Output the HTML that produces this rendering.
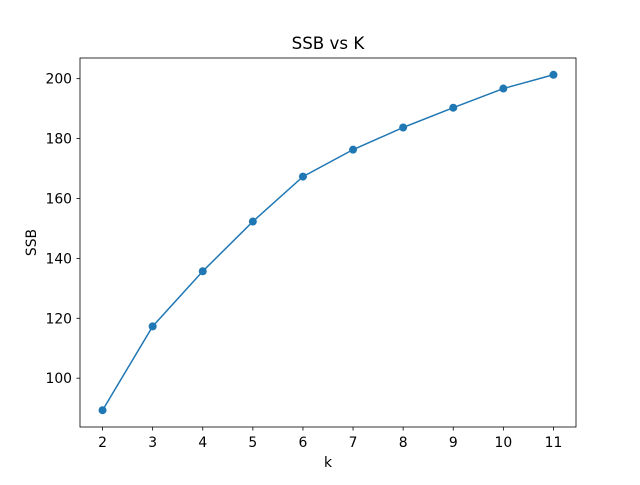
<!DOCTYPE html>
<html><head><meta charset="utf-8"><style>body{margin:0;background:#fff}svg text{font-family:"DejaVu Sans","Liberation Sans",sans-serif;fill:#000}</style></head>
<body>
<svg id="c" width="640" height="480" xmlns="http://www.w3.org/2000/svg"></svg>
<script>
const categories=[2,3,4,5,6,7,8,9,10,11];
const ssbValues=[89.3,117.3,135.7,152.3,167.3,176.3,183.7,190.3,196.7,201.3];
const yTicks=[100,120,140,160,180,200];
const L=80,R=576,T=58,B=427;
const xmin=1.55,xmax=11.45,ymin=83.7,ymax=206.9;
const X=v=>L+(v-xmin)/(xmax-xmin)*(R-L);
const Y=v=>B-(v-ymin)/(ymax-ymin)*(B-T);
const svg=document.getElementById('c');const NS='http://www.w3.org/2000/svg';
function mk(t,a,p){const e=document.createElementNS(NS,t);for(const k in a)e.setAttribute(k,a[k]);(p||svg).appendChild(e);return e;}
let r=mk('rect',{x:L,y:T,width:R-L,height:B-T,fill:'none',stroke:'#000','stroke-width':0.8});


categories.forEach(c=>{const x=X(c);
let t=mk('line',{x1:x,x2:x,y1:B,y2:B+3.5,stroke:'#000','stroke-width':0.8});


let l=mk('text',{x:x,y:B+20,'font-size':13.9,'text-anchor':'middle'});l.textContent=c;

});
yTicks.forEach(v=>{const y=Y(v);
let t=mk('line',{x1:L-3.5,x2:L,y1:y,y2:y,stroke:'#000','stroke-width':0.8});


let l=mk('text',{x:L-8,y:y+5,'font-size':13.9,'text-anchor':'end'});l.textContent=v;

});
let pl=mk('polyline',{points:categories.map((c,i)=>X(c)+','+Y(ssbValues[i])).join(' '),fill:'none',stroke:'#1f77b4','stroke-width':1.5});


categories.forEach((c,i)=>{let p=mk('circle',{cx:X(c),cy:Y(ssbValues[i]),r:4,fill:'#1f77b4'});

});
let ti=mk('text',{x:(L+R)/2,y:49,'font-size':16.7,'text-anchor':'middle'});ti.textContent='SSB vs K';


let xl=mk('text',{x:(L+R)/2,y:467,'font-size':13.9,'text-anchor':'middle'});xl.textContent='k';


let yl=mk('text',{x:36,y:(T+B)/2,'font-size':13.9,'text-anchor':'middle',transform:'rotate(-90 36 '+(T+B)/2+')'});yl.textContent='SSB';


</script>
</body></html>
